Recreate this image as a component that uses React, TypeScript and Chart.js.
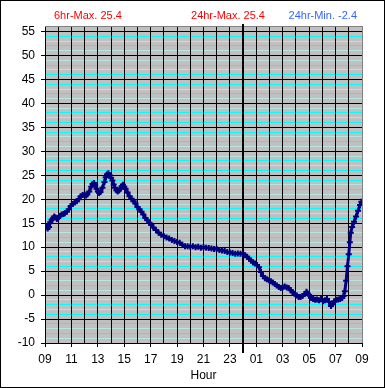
import React, { useEffect, useRef } from 'react';
import { Chart, registerables } from 'chart.js';

Chart.register(...registerables);

// Hours elapsed since 09:00
const hours = [
  0.0, 0.1, 0.2, 0.3, 0.4, 0.5, 0.6, 0.7, 0.8, 0.9,
  1.0, 1.1, 1.25, 1.4, 1.5, 1.65, 1.8, 1.95, 2.1, 2.25,
  2.4, 2.55, 2.7, 2.85, 3.0, 3.1, 3.2, 3.35, 3.5, 3.6,
  3.7, 3.8, 3.9, 4.0, 4.1, 4.2, 4.35, 4.5, 4.6, 4.7,
  4.8, 4.9, 5.0, 5.1, 5.2, 5.3, 5.4, 5.5, 5.6, 5.7,
  5.8, 5.9, 6.0, 6.1, 6.25, 6.4, 6.55, 6.7, 6.85, 7.0,
  7.15, 7.3, 7.45, 7.6, 7.75, 7.9, 8.05, 8.2, 8.4, 8.6,
  8.8, 9.0, 9.2, 9.4, 9.6, 9.8, 10.0, 10.2, 10.4, 10.6,
  10.8, 11.0, 11.2, 11.4, 11.6, 11.8, 12.0, 12.2, 12.4, 12.6,
  12.8, 13.0, 13.2, 13.4, 13.6, 13.8, 14.0, 14.2, 14.4, 14.6,
  14.8, 15.0, 15.15, 15.3, 15.45, 15.6, 15.75, 15.9, 16.05, 16.2,
  16.35, 16.5, 16.65, 16.8, 16.95, 17.1, 17.25, 17.4, 17.55, 17.7,
  17.85, 18.0, 18.15, 18.3, 18.45, 18.6, 18.75, 18.9, 19.05, 19.2,
  19.35, 19.5, 19.65, 19.8, 19.9, 20.0, 20.15, 20.3, 20.45, 20.6,
  20.75, 20.9, 21.05, 21.2, 21.35, 21.5, 21.65, 21.75, 21.9, 22.05,
  22.2, 22.35, 22.5, 22.6, 22.7, 22.8, 22.9, 23.0, 23.08, 23.15,
  23.25, 23.4, 23.55, 23.7, 23.85, 23.95,
];

const temps = [
  14.8, 14.3, 13.9, 14.2, 15.2, 15.7, 16.0, 16.4, 16.2, 15.9,
  16.1, 16.5, 16.8, 16.9, 17.1, 17.4, 17.9, 18.6, 19.0, 19.3,
  19.6, 20.0, 20.6, 20.9, 21.0, 20.8, 21.0, 21.6, 22.6, 23.2,
  23.4, 23.0, 22.2, 21.6, 21.3, 21.5, 22.4, 23.6, 24.6, 25.2,
  25.4, 25.0, 24.5, 23.9, 23.1, 22.4, 21.9, 21.6, 21.8, 22.2,
  22.7, 23.0, 22.6, 22.2, 21.4, 20.6, 20.1, 19.6, 19.1, 18.4,
  17.9, 17.4, 16.8, 16.1, 15.6, 15.1, 14.6, 14.1, 13.6, 13.0,
  12.6, 12.3, 12.0, 11.8, 11.5, 11.3, 11.1, 10.9, 10.5, 10.2,
  10.2, 10.1, 10.2, 10.0, 10.1, 9.9, 10.0, 9.9, 9.8, 9.7,
  9.6, 9.6, 9.4, 9.3, 9.2, 9.0, 8.9, 8.8, 8.6, 8.7,
  8.6, 8.6, 8.3, 8.0, 7.6, 7.2, 6.8, 6.6, 6.3, 5.8,
  4.8, 4.0, 3.5, 3.3, 3.1, 2.9, 2.6, 2.3, 2.0, 1.7,
  1.5, 1.6, 1.8, 1.6, 1.5, 1.0, 0.6, 0.3, -0.1, -0.4,
  -0.4, -0.2, 0.2, 0.7, 0.3, 0.0, -0.6, -0.8, -1.0, -0.9,
  -1.1, -0.8, -1.3, -1.1, -0.8, -1.4, -2.3, -1.9, -1.3, -1.0,
  -0.9, -0.8, -0.6, -0.2, 0.8, 3.0, 6.0, 8.5, 11.0, 13.0,
  14.2, 15.3, 16.4, 17.6, 18.8, 19.5,
];

// Labels for the even-hour ticks (offset 0, 2, 4, ... 24 from 09:00)
const xTickLabels = ['09', '11', '13', '15', '17', '19', '21', '23', '01', '03', '05', '07', '09'];
const yMin = -10;
const yMax = 56.15;
const yLabelMax = 55;
const midnightOffset = 15;
const headerTexts = ['6hr-Max. 25.4', '24hr-Max. 25.4', '24hr-Min. -2.4'];
const xTitle = 'Hour';

const FONT = '"Liberation Sans", Arial, sans-serif';

const decorPlugin = {
  id: 'decor',
  beforeDraw(chart: any) {
    const { ctx, chartArea: a } = chart;
    ctx.save();
    ctx.fillStyle = '#ffffff';
    ctx.fillRect(0, 0, chart.width, chart.height);
    ctx.fillStyle = '#c0c0c0';
    ctx.fillRect(a.left, a.top, a.right - a.left, a.bottom - a.top);
    ctx.restore();
  },
  beforeDatasetsDraw(chart: any) {
    const { ctx, chartArea: a } = chart;
    ctx.save();
    ctx.strokeStyle = '#808080';
    ctx.lineWidth = 1;
    ctx.beginPath();
    ctx.moveTo(a.left, Math.round(a.top) + 0.5);
    ctx.lineTo(a.right + 1, Math.round(a.top) + 0.5);
    ctx.stroke();
    const x = Math.round(chart.scales.x.getPixelForValue(midnightOffset));
    ctx.strokeStyle = '#000000';
    ctx.lineWidth = 2;
    ctx.beginPath();
    ctx.moveTo(x, a.top - 2);
    ctx.lineTo(x, a.bottom + 10);
    ctx.stroke();
    ctx.restore();
  },
  afterDraw(chart: any) {
    const { ctx } = chart;
    ctx.save();
    ctx.font = `11px ${FONT}`;
    ctx.textBaseline = 'middle';
    ctx.fillStyle = '#ff0000';
    ctx.textAlign = 'left';
    ctx.fillText(headerTexts[0], 54, 15.5);
    ctx.textAlign = 'center';
    ctx.fillText(headerTexts[1], 228, 15.5);
    ctx.fillStyle = '#3366ff';
    ctx.textAlign = 'right';
    ctx.fillText(headerTexts[2], 357, 15.5);
    ctx.strokeStyle = '#000000';
    ctx.lineWidth = 1;
    ctx.strokeRect(0.5, 0.5, chart.width - 1, chart.height - 1);
    ctx.restore();
  },
};

export default function App() {
  const canvasRef = useRef<HTMLCanvasElement | null>(null);

  useEffect(() => {
    if (!canvasRef.current) return;
    const points = hours.map((h, i) => ({ x: h, y: temps[i] }));
    const chart = new Chart(canvasRef.current, {
      type: 'line',
      data: {
        datasets: [
          {
            data: points,
            borderColor: '#000080',
            borderWidth: 3,
            pointStyle: 'cross',
            pointRadius: 3,
            pointBorderWidth: 2,
            pointBorderColor: '#000080',
            pointBackgroundColor: '#000080',
            tension: 0,
            fill: false,
          },
        ],
      },
      options: {
        responsive: false,
        animation: false,
        events: [],
        layout: { padding: { left: 0, right: 23, top: 26, bottom: 0 } },
        plugins: { legend: { display: false }, title: { display: false }, tooltip: { enabled: false } },
        scales: {
          x: {
            type: 'linear',
            min: 0,
            max: 24,
            border: { display: false },
            grid: {
              z: -1,
              lineWidth: 1,
              color: (c: any) => (c.tick && c.tick.value === 24 ? '#808080' : '#000000'),
              tickColor: (c: any) => (c.tick && c.tick.value % 2 === 0 ? '#000000' : 'rgba(0,0,0,0)'),
              tickLength: 4,
            },
            ticks: {
              stepSize: 1,
              autoSkip: false,
              maxRotation: 0,
              padding: 5,
              color: '#000000',
              font: { family: FONT, size: 12 },
              callback: (v: any) => (v % 2 === 0 ? xTickLabels[v / 2] : ''),
            },
            title: {
              display: true,
              text: xTitle,
              color: '#000000',
              font: { family: FONT, size: 12 },
              padding: { top: 0, bottom: 5 },
            },
            afterFit: (s: any) => {
              s.height = 45;
            },
          },
          y: {
            type: 'linear',
            min: yMin,
            max: yMax,
            border: { display: false },
            grid: {
              z: -2,
              lineWidth: 1,
              color: (c: any) => {
                const v = c.tick ? c.tick.value : 0;
                if (v > yLabelMax) return 'rgba(0,0,0,0)';
                if (v % 5 === 0) return '#000000';
                return Math.abs(v) % 2 === 0 ? '#00ffff' : '#b8e4e4';
              },
              tickColor: (c: any) => {
                const v = c.tick ? c.tick.value : 0;
                return v % 5 === 0 && v <= yLabelMax ? '#000000' : 'rgba(0,0,0,0)';
              },
              tickLength: 4,
            },
            ticks: {
              stepSize: 1,
              autoSkip: false,
              includeBounds: false,
              padding: 6,
              color: '#000000',
              font: { family: FONT, size: 12 },
              callback: (v: any) => (v % 5 === 0 && v <= yLabelMax ? String(v) : ''),
            },
            afterFit: (s: any) => {
              s.width = 45;
            },
          },
        },
      },
      plugins: [decorPlugin],
    });
    return () => chart.destroy();
  }, []);

  return (
    <div style={{ position: 'fixed', left: 0, top: 0, width: 385, height: 388 }}>
      <canvas ref={canvasRef} width={385} height={388} style={{ display: 'block' }} />
    </div>
  );
}
